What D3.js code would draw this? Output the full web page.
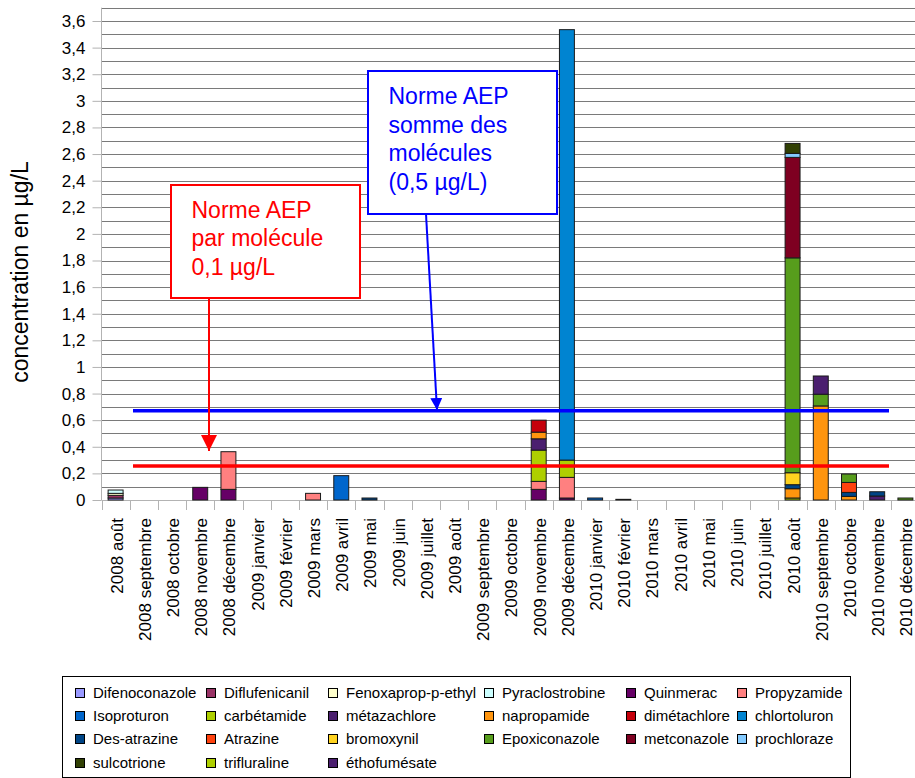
<!DOCTYPE html>
<html>
<head>
<meta charset="utf-8">
<script src="https://cdn.jsdelivr.net/npm/d3@7"></script>
<style>
  body { margin: 0; background: #fff; }
  svg { display: block; font-family: "Liberation Sans", Arial, sans-serif; }
</style>
</head>
<body>
<script>
// months (x categories)
const months = [
  "2008 août", "2008 septembre", "2008 octobre", "2008 novembre", "2008 décembre",
  "2009 janvier", "2009 février", "2009 mars", "2009 avril", "2009 mai", "2009 juin",
  "2009 juillet", "2009 août", "2009 septembre", "2009 octobre", "2009 novembre",
  "2009 décembre", "2010 janvier", "2010 février", "2010 mars", "2010 avril", "2010 mai",
  "2010 juin", "2010 juillet", "2010 août", "2010 septembre", "2010 octobre",
  "2010 novembre", "2010 décembre"
];

// one array per molecule, 29 months each (µg/L)
//                     08a  s   o   n     d     09j f  m     a     m     j  j  a  s  o  n      d      10j    f      m  a  m  j  j  a      s      o      n     d
const difenoconazole = [0.015,0, 0, 0,    0,    0, 0, 0,    0,    0,    0, 0, 0, 0, 0, 0,     0,     0,     0,     0, 0, 0, 0, 0, 0,     0,     0,     0,    0];
const diflufenicanil = [0.02, 0, 0, 0,    0,    0, 0, 0,    0,    0,    0, 0, 0, 0, 0, 0,     0,     0,     0,     0, 0, 0, 0, 0, 0,     0,     0,     0,    0];
const fenoxaprop     = [0.015,0, 0, 0,    0,    0, 0, 0,    0,    0,    0, 0, 0, 0, 0, 0,     0,     0,     0,     0, 0, 0, 0, 0, 0,     0,     0,     0,    0];
const pyraclostrobine= [0.025,0, 0, 0,    0,    0, 0, 0,    0,    0,    0, 0, 0, 0, 0, 0,     0,     0,     0,     0, 0, 0, 0, 0, 0,     0,     0,     0,    0];
const quinmerac      = [0,    0, 0, 0.095,0.08, 0, 0, 0,    0,    0,    0, 0, 0, 0, 0, 0.08,  0.015, 0,     0,     0, 0, 0, 0, 0, 0,     0,     0,     0,    0];
const propyzamide    = [0,    0, 0, 0,    0.283,0, 0, 0.05, 0,    0,    0, 0, 0, 0, 0, 0.06,  0.155, 0,     0,     0, 0, 0, 0, 0, 0,     0,     0,     0,    0];
const isoproturon    = [0,    0, 0, 0,    0,    0, 0, 0,    0.183,0,    0, 0, 0, 0, 0, 0,     0,     0.015, 0,     0, 0, 0, 0, 0, 0,     0,     0,     0,    0];
const carbetamide    = [0,    0, 0, 0,    0,    0, 0, 0,    0,    0,    0, 0, 0, 0, 0, 0.235, 0.13,  0,     0,     0, 0, 0, 0, 0, 0.015, 0,     0,     0,    0];
const metazachlore   = [0,    0, 0, 0,    0,    0, 0, 0,    0,    0,    0, 0, 0, 0, 0, 0.085, 0,     0,     0,     0, 0, 0, 0, 0, 0,     0,     0,     0.03, 0];
const napropamide    = [0,    0, 0, 0,    0,    0, 0, 0,    0,    0,    0, 0, 0, 0, 0, 0.05,  0,     0,     0,     0, 0, 0, 0, 0, 0.07,  0.707, 0.027, 0,    0];
const dimetachlore   = [0,    0, 0, 0,    0,    0, 0, 0,    0,    0,    0, 0, 0, 0, 0, 0.09,  0,     0,     0,     0, 0, 0, 0, 0, 0,     0,     0,     0,    0];
const chlortoluron   = [0,    0, 0, 0,    0,    0, 0, 0,    0,    0,    0, 0, 0, 0, 0, 0,     3.235, 0,     0,     0, 0, 0, 0, 0, 0,     0,     0,     0,    0];
const desAtrazine    = [0,    0, 0, 0,    0,    0, 0, 0,    0,    0.015,0, 0, 0, 0, 0, 0,     0,     0,     0,     0, 0, 0, 0, 0, 0.03,  0,     0.03,  0.032,0];
const atrazine       = [0,    0, 0, 0,    0,    0, 0, 0,    0,    0,    0, 0, 0, 0, 0, 0,     0,     0,     0,     0, 0, 0, 0, 0, 0,     0,     0.075, 0,    0];
const bromoxynil     = [0,    0, 0, 0,    0,    0, 0, 0,    0,    0,    0, 0, 0, 0, 0, 0,     0,     0,     0,     0, 0, 0, 0, 0, 0.09,  0,     0,     0,    0];
const epoxiconazole  = [0,    0, 0, 0,    0,    0, 0, 0,    0,    0,    0, 0, 0, 0, 0, 0,     0,     0,     0,     0, 0, 0, 0, 0, 1.615, 0.088, 0.063, 0,    0.015];
const metconazole    = [0,    0, 0, 0,    0,    0, 0, 0,    0,    0,    0, 0, 0, 0, 0, 0,     0,     0,     0,     0, 0, 0, 0, 0, 0.755, 0,     0,     0,    0];
const prochloraze    = [0,    0, 0, 0,    0,    0, 0, 0,    0,    0,    0, 0, 0, 0, 0, 0,     0,     0,     0,     0, 0, 0, 0, 0, 0.03,  0,     0,     0,    0];
const sulcotrione    = [0,    0, 0, 0,    0,    0, 0, 0,    0,    0,    0, 0, 0, 0, 0, 0,     0,     0,     0.005, 0, 0, 0, 0, 0, 0.075, 0,     0,     0,    0];
const trifluraline   = [0,    0, 0, 0,    0,    0, 0, 0,    0,    0,    0, 0, 0, 0, 0, 0,     0,     0,     0,     0, 0, 0, 0, 0, 0,     0,     0,     0,    0];
const ethofumesate   = [0,    0, 0, 0,    0,    0, 0, 0,    0,    0,    0, 0, 0, 0, 0, 0,     0,     0,     0,     0, 0, 0, 0, 0, 0,     0.137, 0,     0,    0];

// series names, in stacking / legend order
const seriesNames = [
  "Difenoconazole", "Diflufenicanil", "Fenoxaprop-p-ethyl", "Pyraclostrobine", "Quinmerac", "Propyzamide",
  "Isoproturon", "carbétamide", "métazachlore", "napropamide", "dimétachlore", "chlortoluron",
  "Des-atrazine", "Atrazine", "bromoxynil", "Epoxiconazole", "metconazole", "prochloraze",
  "sulcotrione", "trifluraline", "éthofumésate"
];
const seriesValues = [
  difenoconazole, diflufenicanil, fenoxaprop, pyraclostrobine, quinmerac, propyzamide,
  isoproturon, carbetamide, metazachlore, napropamide, dimetachlore, chlortoluron,
  desAtrazine, atrazine, bromoxynil, epoxiconazole, metconazole, prochloraze,
  sulcotrione, trifluraline, ethofumesate
];
const seriesColors = [
  "#9999ff", "#993366", "#ffffcc", "#ccffff", "#660066", "#ff8080",
  "#0066cc", "#aecf00", "#4b1f6f", "#ff950e", "#c5000b", "#0084d1",
  "#004586", "#ff420e", "#ffd320", "#579d1c", "#7e0021", "#83caff",
  "#314004", "#aecf00", "#4b1f6f"
];

// y ticks
const yTicks = [0, 0.2, 0.4, 0.6, 0.8, 1, 1.2, 1.4, 1.6, 1.8, 2, 2.2, 2.4, 2.6, 2.8, 3, 3.2, 3.4, 3.6];

// hand-drawn "norme" lines (value on y axis)
const normeMolecule = 0.255;
const normeSomme = 0.67;

var width = 915,
  height = 778;

var svg = d3
  .select("body")
  .append("svg")
  .attr("width", width)
  .attr("height", height);

var table = months.map((m, i) => {
  var row = { month: m };
  seriesNames.forEach((s, j) => (row[s] = seriesValues[j][i]));
  return row;
});

var stacked = d3.stack().keys(seriesNames)(table);

var xScale = d3
  .scaleBand()
  .domain(months)
  .range([101.5, 919.5])
  .paddingInner(0.47)
  .paddingOuter(0.235);

var yScale = d3.scaleLinear().domain([0, 3.7]).range([500, 7.7]);

var colorScale = d3.scaleOrdinal().domain(seriesNames).range(seriesColors);

// grid lines every 0.1
var gridVals = d3.range(1, 38).map((i) => i / 10);
svg
  .append("g")
  .selectAll("line")
  .data(gridVals)
  .enter()
  .append("line")
  .attr("x1", 101.5)
  .attr("x2", 919.5)
  .attr("y1", (d) => Math.round(yScale(d)) + 0.5)
  .attr("y2", (d) => Math.round(yScale(d)) + 0.5)
  .style("stroke", "#7a7a7a")
  .style("stroke-width", "1px");

// y axis
var yAxis = d3
  .axisLeft(yScale)
  .tickValues(yTicks)
  .tickSize(9)
  .tickPadding(7)
  .tickFormat((d) => String(Math.round(d * 10) / 10).replace(".", ","));

var gy = svg
  .append("g")
  .attr("transform", "translate(101.5,0)")
  .call(yAxis);
gy.select(".domain").attr("d", "M0," + yScale(3.7) + "V500").style("stroke", "#b3b3b3");
gy.selectAll(".tick line").style("stroke", "#b3b3b3");
gy.selectAll(".tick text")
  .style("font-size", "17px")
  .style("fill", "#000")
  .style("font-family", "'Liberation Sans', Arial, sans-serif");

// x axis
var step = xScale.step();
var boundaries = d3.range(0, months.length + 1).map((i) => xScale.range()[0] + i * step);
var gx = svg.append("g");
gx.append("line")
  .attr("x1", 101.5)
  .attr("x2", 919.5)
  .attr("y1", 500.5)
  .attr("y2", 500.5)
  .style("stroke", "#b3b3b3");
gx.selectAll(".xtick")
  .data(boundaries)
  .enter()
  .append("line")
  .attr("x1", (d) => Math.round(d) + 0.5)
  .attr("x2", (d) => Math.round(d) + 0.5)
  .attr("y1", 500)
  .attr("y2", 510)
  .style("stroke", "#b3b3b3");
gx.selectAll(".xlab")
  .data(months)
  .enter()
  .append("text")
  .attr("transform", (d) => `translate(${xScale(d) + xScale.bandwidth() / 2 + 1},518) rotate(-90)`)
  .attr("dy", "0.35em")
  .attr("text-anchor", "end")
  .style("font-size", "17px")
  .text((d) => d);

// stacked bars
svg
  .append("g")
  .selectAll("g")
  .data(stacked)
  .enter()
  .append("g")
  .style("fill", (d) => colorScale(d.key))
  .selectAll("rect")
  .data((d) => d.filter((p) => p[1] - p[0] > 0))
  .enter()
  .append("rect")
  .attr("x", (d) => xScale(d.data.month))
  .attr("width", xScale.bandwidth())
  .attr("y", (d) => yScale(d[1]))
  .attr("height", (d) => yScale(d[0]) - yScale(d[1]))
  .style("stroke", "#1a1a1a")
  .style("stroke-width", "1px");

// norme lines
svg
  .append("line")
  .attr("x1", 133)
  .attr("x2", 889)
  .attr("y1", yScale(normeSomme))
  .attr("y2", yScale(normeSomme))
  .style("stroke", "#0000ff")
  .style("stroke-width", "3.5px");

svg
  .append("line")
  .attr("x1", 133)
  .attr("x2", 889)
  .attr("y1", yScale(normeMolecule))
  .attr("y2", yScale(normeMolecule))
  .style("stroke", "#ff0000")
  .style("stroke-width", "3.5px");

// arrows
var defs = svg.append("defs");
[["arrRed", "#ff0000", 16], ["arrBlue", "#0000ff", 12]].forEach(([id, c, s]) => {
  defs
    .append("marker")
    .attr("id", id)
    .attr("viewBox", "0 0 10 10")
    .attr("refX", 10)
    .attr("refY", 5)
    .attr("markerWidth", s)
    .attr("markerHeight", s)
    .attr("markerUnits", "userSpaceOnUse")
    .attr("orient", "auto")
    .append("path")
    .attr("d", "M0,0L10,5L0,10Z")
    .style("fill", c);
});

svg
  .append("line")
  .attr("x1", 209)
  .attr("y1", 298)
  .attr("x2", 209)
  .attr("y2", 451)
  .style("stroke", "#ff0000")
  .style("stroke-width", "2px")
  .attr("marker-end", "url(#arrRed)");

svg
  .append("line")
  .attr("x1", 426)
  .attr("y1", 214)
  .attr("x2", 437)
  .attr("y2", 410)
  .style("stroke", "#0000ff")
  .style("stroke-width", "2px")
  .attr("marker-end", "url(#arrBlue)");

// annotation boxes
function noteBox(x, y, w, h, color, lines, tx, ty0, lh) {
  svg
    .append("rect")
    .attr("x", x)
    .attr("y", y)
    .attr("width", w)
    .attr("height", h)
    .style("fill", "#fff")
    .style("stroke", color)
    .style("stroke-width", "2px");
  lines.forEach((l, i) => {
    svg
      .append("text")
      .attr("x", tx)
      .attr("y", ty0 + i * lh)
      .style("fill", color)
      .style("font-size", "23px")
      .text(l);
  });
}

noteBox(171, 185, 189, 113, "#ff0000", ["Norme AEP", "par molécule", "0,1 µg/L"], 191.5, 217.5, 28.5);
noteBox(368, 71, 189, 143, "#0000ff", ["Norme AEP", "somme des", "molécules", "(0,5 µg/L)"], 388.5, 104, 28.7);

// y title
svg
  .append("text")
  .attr("transform", "translate(28,272) rotate(-90)")
  .attr("text-anchor", "middle")
  .style("font-size", "23px")
  .text("concentration en µg/L");

// legend
var legendCols = [75, 206, 328, 484, 626, 737];
var legendRows = [693, 716, 739, 763];
svg
  .append("rect")
  .attr("x", 62.5)
  .attr("y", 676.5)
  .attr("width", 788)
  .attr("height", 101)
  .style("fill", "#fff")
  .style("stroke", "#000")
  .style("stroke-width", "1px");

var items = svg
  .append("g")
  .selectAll("g")
  .data(seriesNames)
  .enter()
  .append("g")
  .attr("transform", (d, i) => `translate(${legendCols[i % 6]},${legendRows[Math.floor(i / 6)]})`);

items
  .append("rect")
  .attr("x", 0.5)
  .attr("y", -4.5)
  .attr("width", 9)
  .attr("height", 9)
  .style("fill", (d) => colorScale(d))
  .style("stroke", "#000")
  .style("stroke-width", "1px");

items
  .append("text")
  .attr("x", 18)
  .attr("dy", "0.35em")
  .style("font-size", "15px")
  .text((d) => d);
</script>
</body>
</html>
